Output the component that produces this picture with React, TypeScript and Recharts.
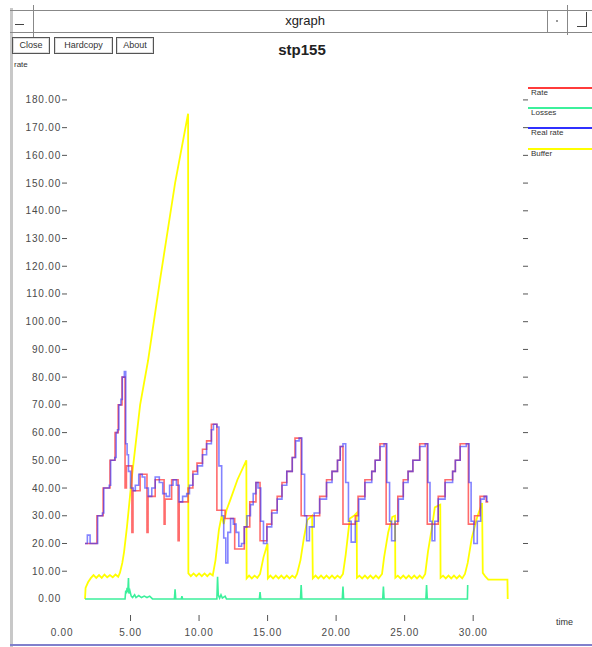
import React from "react";
import { LineChart, Line, XAxis, YAxis } from "recharts";

// series names as shown in the xgraph legend
const seriesNames = ["Rate", "Losses", "Real rate", "Buffer"];
const seriesColors = ["#ff3b3b", "#3cf09c", "#3030ff", "#ffff00"];

const xTicks = [0, 5, 10, 15, 20, 25, 30];
const yTicks = [0, 10, 20, 30, 40, 50, 60, 70, 80, 90, 100, 110, 120, 130, 140, 150, 160, 170, 180];

// [time, value]
const rateSeries: [number, number][] = [
  [1.68, 20], [2.55, 30], [3.0, 40], [3.5, 50], [3.87, 60], [4.1, 70], [4.38, 80], [4.6, 40], [4.7, 48],
  [5.1, 24], [5.18, 39], [5.7, 45], [6.2, 24], [6.28, 37], [6.8, 43], [7.45, 27], [7.52, 36], [8.0, 43],
  [8.47, 21], [8.55, 35], [9.2, 40], [9.55, 46], [9.85, 49], [10.25, 54], [10.55, 57], [10.9, 63],
  [11.3, 32], [11.9, 29], [12.6, 18], [13.3, 26], [13.7, 35], [14.15, 42], [14.45, 21], [14.95, 27],
  [15.3, 32], [15.7, 37], [16.05, 42], [16.4, 46], [16.8, 51], [17.0, 58], [17.45, 30], [18.8, 37],
  [19.3, 43], [19.7, 46], [20.1, 50], [20.3, 55], [20.5, 27], [21.4, 30], [21.6, 37], [22.1, 43],
  [22.6, 46], [22.85, 50], [23.2, 56], [23.65, 27], [24.5, 37], [24.9, 43], [25.25, 46], [25.6, 50],
  [26.1, 56], [26.65, 27], [27.45, 37], [27.95, 43], [28.5, 46], [28.7, 50], [29.05, 56], [29.65, 27],
  [30.1, 30], [30.5, 37], [30.95, 35], [31.1, 35],
];

const realRateSeries: [number, number][] = [
  [1.68, 20], [1.85, 23], [2.05, 20], [2.5, 20], [2.6, 30], [2.95, 31], [3.05, 40], [3.45, 41], [3.55, 50],
  [3.85, 51], [3.95, 60], [4.05, 61], [4.15, 70], [4.3, 72], [4.4, 80], [4.55, 82], [4.65, 56], [4.75, 52],
  [4.85, 46], [5.0, 40], [5.2, 39], [5.35, 41], [5.6, 45], [5.85, 44], [6.05, 40], [6.3, 37], [6.55, 40],
  [6.8, 44], [7.1, 42], [7.35, 38], [7.6, 37], [7.85, 41], [8.1, 43], [8.35, 41], [8.55, 35], [8.8, 37],
  [9.1, 38], [9.3, 41], [9.55, 45], [9.9, 48], [10.25, 52], [10.55, 56], [10.9, 61], [11.05, 63],
  [11.3, 62], [11.45, 48], [11.65, 30], [11.8, 22], [11.95, 13], [12.1, 24], [12.3, 29], [12.5, 27],
  [12.7, 24], [12.9, 19], [13.1, 20], [13.3, 26], [13.5, 30], [13.75, 34], [13.95, 38], [14.15, 42],
  [14.3, 40], [14.5, 28], [14.7, 20], [14.95, 26], [15.3, 31], [15.7, 36], [16.05, 41], [16.4, 46],
  [16.8, 51], [17.05, 57], [17.3, 58], [17.5, 45], [17.7, 30], [17.85, 21], [18.05, 26], [18.4, 31],
  [18.8, 36], [19.3, 42], [19.7, 46], [20.1, 50], [20.3, 55], [20.5, 56], [20.7, 42], [20.9, 28],
  [21.1, 20.5], [21.4, 28], [21.65, 36], [22.1, 42], [22.6, 46], [22.85, 50], [23.2, 55], [23.5, 56],
  [23.7, 42], [23.9, 28], [24.05, 21], [24.3, 28], [24.55, 36], [24.9, 42], [25.25, 46], [25.6, 50],
  [26.1, 55], [26.5, 56], [26.7, 42], [26.85, 28], [27.0, 21], [27.2, 28], [27.45, 36], [27.95, 42],
  [28.5, 46], [28.7, 50], [29.05, 55], [29.5, 56], [29.7, 42], [29.85, 28], [30.05, 20], [30.3, 28],
  [30.55, 36], [30.8, 37], [31.0, 35],
];

const lossSeries: [number, number][] = [
  [1.68, 0], [4.6, 0], [4.65, 3], [4.7, 2], [4.75, 4], [4.8, 2.5], [4.85, 7.5], [4.88, 2], [4.95, 3],
  [5.05, 1], [5.15, 0.5], [5.3, 1.5], [5.4, 0.5], [5.6, 1.2], [5.8, 0.5], [6.0, 1], [6.2, 0.5], [6.4, 1],
  [6.6, 0], [8.2, 0], [8.25, 3.5], [8.3, 0], [8.7, 0], [8.75, 1], [8.8, 0], [11.3, 0], [11.35, 8],
  [11.4, 1.5], [11.5, 0.3], [11.6, 1.5], [11.7, 0.3], [11.9, 1], [12.0, 0], [14.4, 0], [14.45, 2.5],
  [14.5, 0], [17.4, 0], [17.45, 5], [17.5, 0], [20.45, 0], [20.5, 4.5], [20.55, 0], [23.4, 0],
  [23.45, 4.5], [23.5, 0], [26.55, 0], [26.6, 5], [26.65, 0], [29.58, 0], [29.6, 5],
];

const bufferSeries: [number, number][] = [
  [1.68, 0], [1.72, 4], [1.9, 6], [2.1, 7.5], [2.3, 8.6], [2.5, 7.6], [2.7, 8.6], [2.9, 7.6], [3.1, 8.8],
  [3.3, 7.8], [3.5, 8.6], [3.7, 7.8], [3.9, 8.8], [4.1, 8], [4.23, 9.5], [4.4, 13], [4.53, 17], [4.74, 26],
  [5.1, 44], [5.7, 70], [6.28, 86], [7.15, 115], [8.25, 150], [9.2, 175], [9.22, 9.2], [9.4, 8.2],
  [9.6, 9.2], [9.8, 8.2], [10.0, 9.2], [10.2, 8.2], [10.4, 9.2], [10.6, 8.2], [10.8, 9.2], [11.0, 8.5],
  [11.2, 14], [11.45, 25], [11.65, 30], [11.8, 27], [12.0, 32], [12.3, 36], [12.8, 43], [13.45, 50],
  [13.47, 7.4], [13.65, 8.4], [13.85, 7.4], [14.05, 8.4], [14.25, 7.6], [14.45, 9], [14.7, 15], [15.0, 20],
  [15.02, 7.4], [15.2, 8.4], [15.4, 7.4], [15.6, 8.4], [15.8, 7.4], [16.0, 8.4], [16.2, 7.4], [16.4, 8.4],
  [16.6, 7.4], [16.8, 8.4], [17.0, 7.6], [17.15, 9], [17.4, 14], [17.65, 22], [17.9, 28.5], [18.25, 30],
  [18.3, 7.4], [18.5, 8.4], [18.7, 7.4], [18.9, 8.4], [19.1, 7.4], [19.3, 8.4], [19.5, 7.4], [19.7, 8.4],
  [19.9, 7.4], [20.1, 8.4], [20.3, 7.6], [20.5, 9], [20.7, 16], [21.0, 29], [21.3, 30], [21.5, 31],
  [21.52, 7.6], [21.7, 8.4], [21.9, 7.4], [22.1, 8.4], [22.3, 7.4], [22.5, 8.4], [22.7, 7.4], [22.9, 8.4],
  [23.1, 7.4], [23.35, 9], [23.5, 15], [23.8, 24], [24.1, 29.6], [24.3, 30], [24.32, 7.6], [24.5, 8.4],
  [24.7, 7.4], [24.9, 8.4], [25.1, 7.4], [25.3, 8.4], [25.5, 7.4], [25.7, 8.4], [25.9, 7.4], [26.1, 8.4],
  [26.3, 7.4], [26.5, 9], [26.7, 17], [27.0, 26], [27.2, 33], [27.6, 34], [27.62, 7.6], [27.8, 8.4],
  [28.0, 7.4], [28.2, 8.4], [28.4, 7.4], [28.6, 8.4], [28.8, 7.4], [29.0, 8.4], [29.2, 7.4], [29.4, 9],
  [29.6, 13], [29.9, 22], [30.3, 29.6], [30.65, 34.6], [30.7, 9.4], [30.9, 8], [31.1, 7], [31.5, 7],
  [32.0, 7], [32.5, 7], [32.52, 0],
];

const toRows = (pts: [number, number][]) => pts.map(([t, v]) => ({ t, v }));

const FONT = '"Liberation Sans", Arial, sans-serif';
const TICK_COLOR = "#555";

const LeftTick = (props: any) => {
  const { x, y, payload } = props;
  return (
    <g>
      {payload.value !== 0 && <line x1={x} x2={x + 5} y1={y} y2={y} stroke={TICK_COLOR} />}
      <text x={x - 1} y={y} dy={3.5} textAnchor="end" fontSize={10} letterSpacing={0.8} fill="#4a4a4a" fontFamily={FONT}>
        {payload.value.toFixed(2)}
      </text>
    </g>
  );
};

const RightTick = (props: any) => {
  const { x, y, payload } = props;
  if (payload.value === 0) return <g />;
  return <line x1={x - 5} x2={x} y1={y} y2={y} stroke={TICK_COLOR} />;
};

const BottomTick = (props: any) => {
  const { x, y, payload } = props;
  return (
    <g>
      {payload.value !== 0 && <line x1={x} x2={x} y1={y - 5} y2={y + 1} stroke={TICK_COLOR} />}
      <text x={x} y={y + 16} textAnchor="middle" fontSize={10} letterSpacing={0.8} fill="#4a4a4a" fontFamily={FONT}>
        {payload.value.toFixed(2)}
      </text>
    </g>
  );
};

const TopTick = (props: any) => {
  const { x, y, payload } = props;
  if (payload.value === 0) return <g />;
  return <line x1={x} x2={x} y1={y} y2={y + 5} stroke={TICK_COLOR} />;
};

const abs = (s: React.CSSProperties): React.CSSProperties => ({ position: "absolute", ...s });

const buttonStyle = (left: number, width: number): React.CSSProperties =>
  abs({
    left,
    top: 37,
    width,
    height: 17,
    border: "1px solid #555",
    boxShadow: "inset 0 0 0 1px #ddd",
    boxSizing: "border-box",
    fontSize: 9,
    lineHeight: "15px",
    textAlign: "center",
    color: "#333",
  });

const App = () => {
  const legendTops = [87, 107, 127, 148];
  return (
    <div style={abs({ left: 0, top: 0, width: 592, height: 647, background: "#fff", overflow: "hidden", fontFamily: FONT })}>
      {/* window frame */}
      <div style={abs({ left: 10, top: 8, width: 3, height: 639, background: "#c8c8c8" })} />
      <div style={abs({ left: 10, top: 10, width: 582, height: 23, borderTop: "1px solid #888", borderBottom: "1px solid #888", boxSizing: "border-box" })} />
      <div style={abs({ left: 33, top: 5, width: 1, height: 32, background: "#888" })} />
      <div style={abs({ left: 15, top: 24, width: 9, height: 1, background: "#444" })} />
      <div style={abs({ left: 547, top: 10, width: 1, height: 23, background: "#888" })} />
      <div style={abs({ left: 567, top: 5, width: 1, height: 30, background: "#888" })} />
      <div style={abs({ left: 556, top: 20, width: 2, height: 2, background: "#999" })} />
      <div style={abs({ left: 577, top: 26, width: 9, height: 1, background: "#444" })} />
      <div style={abs({ left: 586, top: 12, width: 1, height: 15, background: "#444" })} />
      <div style={abs({ left: 255, top: 13, width: 100, textAlign: "center", fontSize: 13, color: "#222" })}>xgraph</div>
      <div style={buttonStyle(12, 38)}>Close</div>
      <div style={buttonStyle(54, 59)}>Hardcopy</div>
      <div style={buttonStyle(116, 38)}>About</div>
      <div style={abs({ left: 252, top: 41, width: 100, textAlign: "center", fontSize: 15, fontWeight: "bold", color: "#222" })}>stp155</div>
      <div style={abs({ left: 14, top: 60, fontSize: 8, color: "#333" })}>rate</div>
      <div style={abs({ left: 556, top: 617, fontSize: 9, color: "#333" })}>time</div>
      <div style={abs({ left: 10, top: 644, width: 582, height: 2, background: "#8080cc" })} />

      {/* legend */}
      {seriesNames.map((name, i) => (
        <React.Fragment key={name}>
          <div style={abs({ left: 528, top: legendTops[i], width: 64, height: 1.5, background: seriesColors[i] })} />
          <div style={abs({ left: 531, top: legendTops[i] + 1, fontSize: 8, color: "#333" })}>{name}</div>
        </React.Fragment>
      ))}

      <div style={abs({ left: 0, top: 0 })}>
        <LineChart width={592} height={647} margin={{ top: 88, right: 0, bottom: 0, left: 0 }}>
          <XAxis xAxisId="bottom" dataKey="t" type="number" domain={[0, 34]} ticks={xTicks} interval={0}
            height={27} axisLine={false} tickLine={false} tickSize={0} tickMargin={0} tick={<BottomTick />} allowDataOverflow />
          <XAxis xAxisId="top" orientation="top" dataKey="t" type="number" domain={[0, 34]} ticks={xTicks} interval={0}
            height={0} axisLine={false} tickLine={false} tickSize={0} tickMargin={0} tick={<TopTick />} allowDataOverflow />
          <YAxis yAxisId="left" type="number" domain={[-7.6, 184.3]} ticks={yTicks} interval={0} width={62}
            axisLine={false} tickLine={false} tickSize={0} tickMargin={0} tick={<LeftTick />} allowDataOverflow />
          <YAxis yAxisId="right" orientation="right" type="number" domain={[-7.6, 184.3]} ticks={yTicks} interval={0} width={64}
            axisLine={false} tickLine={false} tickSize={0} tickMargin={0} tick={<RightTick />} allowDataOverflow />

          <Line xAxisId="bottom" yAxisId="left" data={toRows(bufferSeries)} dataKey="v" name="Buffer" type="linear"
            stroke={seriesColors[3]} strokeWidth={1.8} dot={false} isAnimationActive={false} />
          <Line xAxisId="bottom" yAxisId="left" data={toRows(lossSeries)} dataKey="v" name="Losses" type="linear"
            stroke={seriesColors[1]} strokeWidth={1.6} dot={false} isAnimationActive={false} />
          <Line xAxisId="bottom" yAxisId="left" data={toRows(rateSeries)} dataKey="v" name="Rate" type="stepAfter"
            stroke={seriesColors[0]} strokeOpacity={0.75} strokeWidth={1.6} dot={false} isAnimationActive={false} />
          <Line xAxisId="bottom" yAxisId="left" data={toRows(realRateSeries)} dataKey="v" name="Real rate" type="stepAfter"
            stroke={seriesColors[2]} strokeOpacity={0.6} strokeWidth={1.6} dot={false} isAnimationActive={false} />
        </LineChart>
      </div>
    </div>
  );
};

export default App;
